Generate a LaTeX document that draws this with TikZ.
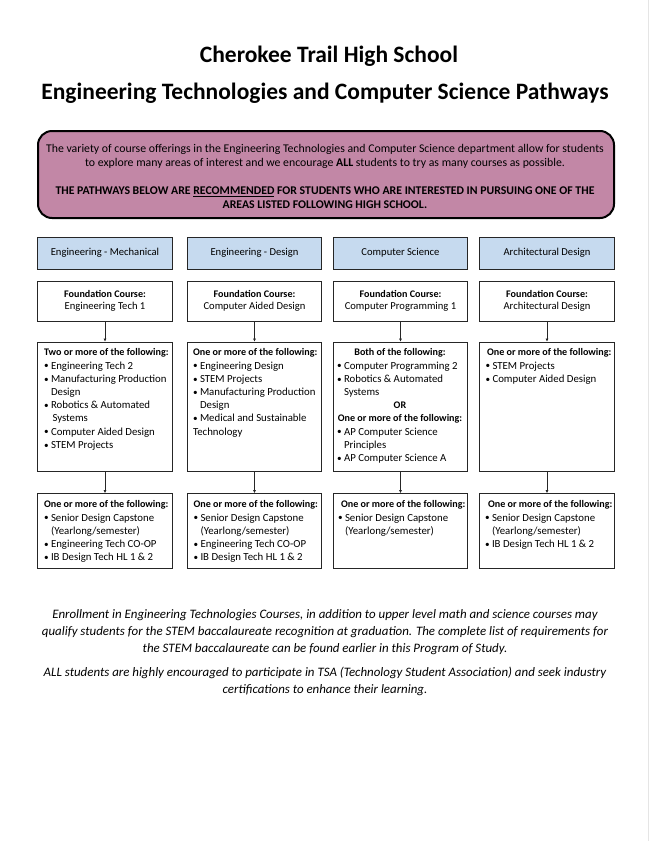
\documentclass[tikz,border=0pt]{standalone}
\usepackage{fontspec}
\setmainfont{Carlito}
\usetikzlibrary{arrows.meta}
\definecolor{mauve}{HTML}{C287A6}
\definecolor{hdrblue}{HTML}{C6DAEF}
\newcommand\bl[1]{\makebox[7pt][l]{\raisebox{0.2pt}{\scalebox{0.85}{•}}}#1}
\newcommand\ind{\hspace*{7pt}}
\newcommand\ctr[1]{\makebox[126pt][c]{#1}}
\newcommand\hd{\fontsize{10.1}{12}\bfseries\selectfont}
\newcommand\fc[1]{\raisebox{-2pt}{\begin{tabular}{@{}c@{}}{\hd Foundation Course:}\\#1\end{tabular}}}
\begin{document}
\begin{tikzpicture}[x=1pt,y=-1pt,
  hdr/.style={draw=black!85,line width=0.9pt,fill=hdrblue,minimum width=134.5pt,minimum height=32pt,inner sep=0pt,font=\fontsize{10.6}{12}\selectfont},
  fbox/.style={draw=black!85,line width=0.9pt,fill=white,minimum width=134.5pt,minimum height=40pt,inner sep=0pt,align=center,font=\fontsize{10.6}{12.5}\selectfont},
  mbox/.style={draw=black!85,line width=0.9pt,fill=white,minimum width=134.5pt,minimum height=129pt,inner sep=0pt},
  bbox/.style={draw=black!85,line width=0.9pt,fill=white,minimum width=134.5pt,minimum height=75pt,inner sep=0pt},
  ltxt/.style={anchor=north west,inner sep=0pt,align=left,font=\fontsize{10.8}{13.2}\selectfont},
  conn/.style={draw=black!85,line width=0.7pt,-{Latex[length=3pt,width=3pt]}}
]
\useasboundingbox (0,0) rectangle (650,841);
\fill[white] (0,0) rectangle (650,841);
\draw[black!10,line width=1pt] (648.5,0) -- (648.5,841);

% Title
\node[font=\fontsize{23.5}{28}\bfseries\selectfont] (t1) at (329,56) {Cherokee Trail High School};
\node[font=\fontsize{23.5}{28}\bfseries\selectfont] (t2) at (325,93) {Engineering Technologies and Computer Science Pathways};

% Intro box
\node[draw=black,line width=2pt,fill=mauve,rounded corners=14pt,minimum width=576pt,minimum height=87pt,inner sep=0pt] (intro) at (326,174.5) {};
\node[align=center,inner sep=0pt,font=\fontsize{11.8}{14}\selectfont] (introtxt) at (325,176.5) {The variety of course offerings in the Engineering Technologies and Computer Science department allow for students\\
to explore many areas of interest and we encourage \textbf{ALL} students to try as many courses as possible.\\[14pt]
\textbf{THE PATHWAYS BELOW ARE \underline{RECOMMENDED} FOR STUDENTS WHO ARE INTERESTED IN PURSUING ONE OF THE}\\
\textbf{AREAS LISTED FOLLOWING HIGH SCHOOL.}};

% Headers
\node[hdr] (h1) at (105,253) {\raisebox{-1.5pt}{Engineering - Mechanical}};
\node[hdr] (h2) at (254.5,253) {\raisebox{-1.5pt}{Engineering - Design}};
\node[hdr] (h3) at (400.5,253) {\raisebox{-1.5pt}{Computer Science}};
\node[hdr] (h4) at (547,253) {\raisebox{-1.5pt}{Architectural Design}};

% Foundation
\node[fbox] (f1) at (105,301) {\fc{Engineering Tech 1}};
\node[fbox] (f2) at (254.5,301) {\fc{Computer Aided Design}};
\node[fbox] (f3) at (400.5,301) {\fc{Computer Programming 1}};
\node[fbox] (f4) at (547,301) {\fc{Architectural Design}};

% Middle
\node[mbox] (m1) at (105,406.5) {};
\node[mbox] (m2) at (254.5,406.5) {};
\node[mbox] (m3) at (400.5,406.5) {};
\node[mbox] (m4) at (547,406.5) {};

\node[ltxt] (m1t) at ([xshift=6.5pt,yshift=-7pt]m1.north west) {{\hd Two or more of the following:}\\
\bl{Engineering Tech 2}\\
\bl{Manufacturing Production}\\
\ind Design\\
\bl{Robotics \& Automated}\\
\ind\hspace*{1.5pt}Systems\\
\bl{Computer Aided Design}\\
\bl{STEM Projects}};

\node[ltxt] (m2t) at ([xshift=6pt,yshift=-7pt]m2.north west) {{\hd One or more of the following:}\\
\bl{Engineering Design}\\
\bl{STEM Projects}\\
\bl{Manufacturing Production}\\
\ind Design\\
\bl{Medical and Sustainable}\\
Technology};

\node[ltxt] (m3t) at ([xshift=4pt,yshift=-7pt]m3.north west) {\ctr{\hd Both of the following:}\\
\bl{Computer Programming 2}\\
\bl{Robotics \& Automated}\\
\ind Systems\\
\ctr{\hd OR}\\
\ctr{\hd One or more of the following:}\\
\bl{AP Computer Science}\\
\ind Principles\\
\bl{AP Computer Science A}};

\node[ltxt] (m4t) at ([xshift=6pt,yshift=-7pt]m4.north west) {\hspace*{1.5pt}{\hd One or more of the following:}\\
\bl{STEM Projects}\\
\bl{Computer Aided Design}};

% Bottom
\node[bbox] (b1) at (105,531) {};
\node[bbox] (b2) at (254.5,531) {};
\node[bbox] (b3) at (400.5,531) {};
\node[bbox] (b4) at (547,531) {};

\node[ltxt] (b1t) at ([xshift=6.5pt,yshift=-7.5pt]b1.north west) {{\hd One or more of the following:}\\
\bl{Senior Design Capstone}\\
\ind(Yearlong/semester)\\
\bl{Engineering Tech CO-OP}\\
\bl{IB Design Tech HL 1 \& 2}};

\node[ltxt] (b2t) at ([xshift=6.5pt,yshift=-7.5pt]b2.north west) {{\hd One or more of the following:}\\
\bl{Senior Design Capstone}\\
\ind(Yearlong/semester)\\
\bl{Engineering Tech CO-OP}\\
\bl{IB Design Tech HL 1 \& 2}};

\node[ltxt] (b3t) at ([xshift=5pt,yshift=-7.5pt]b3.north west) {\hspace*{3pt}{\hd One or more of the following:}\\
\bl{Senior Design Capstone}\\
\ind(Yearlong/semester)};

\node[ltxt] (b4t) at ([xshift=5.5pt,yshift=-7.5pt]b4.north west) {\hspace*{3pt}{\hd One or more of the following:}\\
\bl{Senior Design Capstone}\\
\ind(Yearlong/semester)\\
\bl{IB Design Tech HL 1 \& 2}};

% Connectors
\foreach \i in {1,2,3,4}{
  \draw[conn] (f\i) -- (m\i);
  \draw[conn] (m\i) -- (b\i);
}

% Footer
\node[align=center,inner sep=0pt,font=\fontsize{12.9}{17}\itshape\selectfont] (foot1) at (325,632) {Enrollment in Engineering Technologies Courses, in addition to upper level math and science courses may\\
qualify students for the STEM baccalaureate recognition at graduation. The complete list of requirements for\\
the STEM baccalaureate can be found earlier in this Program of Study.};
\node[align=center,inner sep=0pt,font=\fontsize{12.9}{17}\itshape\selectfont] (foot2) at (325,681) {ALL students are highly encouraged to participate in TSA (Technology Student Association) and seek industry\\
certifications to enhance their learning.};
\end{tikzpicture}
\end{document}
